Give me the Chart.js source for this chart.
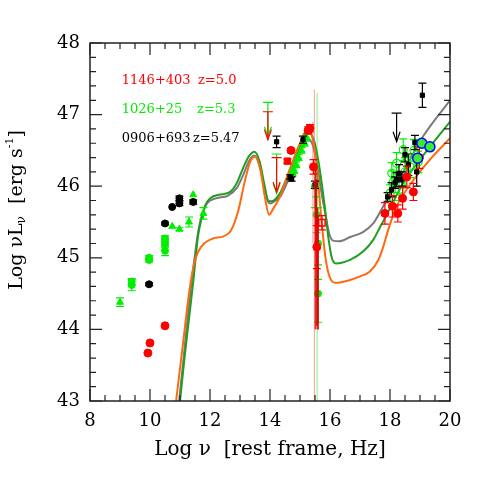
<!DOCTYPE html>
<html>
<head>
<meta charset="utf-8">
<script src="https://cdn.jsdelivr.net/npm/chart.js@4"></script>
<style>html,body{margin:0;padding:0;background:#fff}</style>
</head>
<body>
<canvas id="chart1" width="491" height="491"></canvas>
<script>
// model SEDs: [log nu, log nuLnu]
const grayModel = [[10.97,43.0],[11.12,43.6],[11.3,44.35],[11.47,44.95],[11.62,45.4],[11.75,45.62],[11.9,45.76],[12.2,45.83],[12.6,45.87],[12.9,45.98],[13.1,46.15],[13.3,46.35],[13.47,46.43],[13.62,46.33],[13.78,46.05],[13.92,45.8],[14.02,45.76],[14.15,45.79],[14.35,45.86],[14.6,46.08],[14.9,46.38],[15.1,46.56],[15.26,46.66],[15.42,46.58],[15.57,46.3],[15.7,45.95],[15.85,45.6],[15.98,45.33],[16.1,45.24],[16.3,45.23],[16.67,45.29],[17.1,45.36],[17.44,45.48],[17.67,45.64],[17.89,45.81],[18.44,46.2],[19.11,46.7],[20,47.2]];
const greenModel = [[11.0,43.0],[11.15,43.6],[11.3,44.15],[11.45,44.7],[11.6,45.3],[11.72,45.55],[11.85,45.74],[12.0,45.83],[12.3,45.88],[12.67,45.92],[12.9,46.05],[13.1,46.25],[13.3,46.42],[13.48,46.48],[13.65,46.35],[13.8,46.05],[13.94,45.8],[14.05,45.79],[14.33,45.9],[14.67,46.23],[15.0,46.55],[15.28,46.75],[15.45,46.66],[15.57,46.45],[15.67,46.2],[15.83,45.7],[15.94,45.3],[16.06,45.0],[16.2,44.92],[16.67,44.97],[17.11,45.09],[17.44,45.25],[17.67,45.43],[17.89,45.6],[18.44,46.04],[19.33,46.55],[20,46.9]];
const orangeModel = [[10.87,43.0],[11.1,43.8],[11.3,44.5],[11.45,44.88],[11.6,45.08],[11.8,45.2],[12.1,45.27],[12.45,45.3],[12.7,45.38],[12.95,45.67],[13.15,46.05],[13.33,46.33],[13.5,46.41],[13.67,46.25],[13.83,45.85],[13.97,45.6],[14.1,45.68],[14.33,45.85],[14.67,46.25],[15.0,46.6],[15.25,46.8],[15.4,46.7],[15.56,46.27],[15.7,45.6],[15.85,45.0],[16.0,44.72],[16.2,44.65],[16.67,44.69],[17.0,44.74],[17.33,44.81],[17.61,44.97],[17.78,45.16],[17.94,45.39],[18.22,45.72],[18.67,46.02],[19.33,46.37],[20,46.67]];

// data points: [log nu, log nuLnu, err down, err up]
// 1146+403 z=5.0
const redCircles = [[9.93,43.67],[10.0,43.81],[10.5,44.05],[14.7,46.5,0.03],[15.27,46.78,0.05],[15.33,46.81,0.05],[15.45,46.27,0.1],[15.56,45.15,0.3],
  [17.83,45.62,0.15],[18.08,45.72,0.15],[18.26,45.62,0.12],[18.42,45.83,0.15],[18.56,46.13,0.15],[18.78,45.92,0.12],[18.98,46.40,0.15]];
const redSquares = [[14.58,46.35,0.03]];
const redOpenSquares = [[15.73,45.49,0.1]];
const redBars = [[15.52,45.1,1.1,1.2],[15.57,44.8,0.75,0.9],[15.6,45.0,1.0,0.6],[15.54,45.6,0.4,0.5]];
const redLongBars = [[15.48,45.2,2.2,2.15],[15.43,46.0,0.8,0.9]];
const redLimits = [[13.93,47.04,46.65],[14.22,46.40,45.92]];

// 1026+25 z=5.3
const greenTriangles = [[9.0,44.38,0.06],[10.74,45.44],[10.98,45.40,0.02],[11.3,45.50,0.07],[11.44,45.88],[11.78,45.62,0.08],
  [14.75,46.18,0.04],[14.8,46.22,0.04],[14.87,46.3,0.04],[14.95,46.4,0.04],[15.05,46.5,0.04],[15.15,46.6,0.04],[15.22,46.68,0.05]];
const greenDots = [[9.39,44.67,0.04],[9.39,44.62,0.08],[9.97,45.0,0.03],[9.97,44.97,0.03],[10.5,45.27,0.04],[10.5,45.2,0.05],[10.5,45.1,0.07],
  [15.5,46.0,0.3,0.3],[15.55,45.6,0.25,0.25],[15.6,45.2,0.5,0.5],[15.6,44.5,0.4,0.4]];
const greenBars = [[15.57,45.1,2.1,2.2]];
const greenOpen = [[18.0,45.9,0.12],[18.06,46.18,0.15],[18.11,46.06,0.15],[18.22,46.32,0.15],[18.3,45.95,0.15],[18.44,46.51,0.15],[18.5,46.2,0.2],[18.67,46.27,0.15],[18.8,46.5,0.15],[18.94,46.34,0.15]];
const blueRim = [[18.92,46.39],[19.06,46.60],[19.33,46.55]];
const greenLimits = [[13.93,47.17,46.69],[14.22,46.45,45.9]];

// 0906+693 z=5.47
const blackRadio = [[9.97,44.63,0.02],[10.5,45.48,0.02],[10.74,45.71],[10.98,45.83,0.03],[10.98,45.76,0.03],[11.44,45.78,0.03]];
const blackSquares = [[14.22,46.62,0.08],[14.67,46.13,0.03],[14.72,46.1,0.03],[15.1,46.65,0.05],[15.5,46.02,0.05],
  [17.92,45.85,0.06],[18.05,45.95,0.1],[18.17,46.05,0.08],[18.22,46.09,0.1],[18.3,46.18,0.12],[18.4,46.1,0.1],[18.5,46.44,0.1],[18.61,46.30,0.15],[18.83,46.61,0.1],[18.89,46.2,0.2],[19.08,47.27,0.17]];
const blackLimits = [[18.22,47.02,46.62]];

const labelNames = ['1146+403', '1026+25', '0906+693'];
const labelZ = ['z=5.0', 'z=5.3', 'z=5.47'];
const labelColors = ['#ff0000', '#00ee00', '#000000'];

function pts(arr, color, style, r, extra) {
  return Object.assign({
    data: arr.map(p => ({x: p[0], y: p[1]})),
    errs: arr.map(p => [p[2] || 0, p[3] !== undefined ? p[3] : (p[2] || 0)]),
    pointStyle: style, pointRadius: r, backgroundColor: color, borderColor: color,
    borderWidth: 1, errColor: color
  }, extra || {});
}
function limits(arr, color) {
  return {data: arr.map(p => ({x: p[0], y: p[1]})), tips: arr.map(p => p[2]), pointRadius: 0, errColor: color, borderColor: color};
}
function curve(arr, color) {
  return {data: arr.map(p => ({x: p[0], y: p[1]})), showLine: true, pointRadius: 0, borderColor: color,
    borderWidth: 2, cubicInterpolationMode: 'monotone', fill: false};
}

const errPlugin = {
  id: 'errbars',
  beforeDatasetDraw(chart, args) {
    const ds = chart.data.datasets[args.index];
    if (!ds.errs && !ds.tips) return;
    const xs = chart.scales.x, ys = chart.scales.y, ctx = chart.ctx, a = chart.chartArea;
    ctx.save();
    ctx.beginPath(); ctx.rect(a.left, a.top, a.right - a.left, a.bottom - a.top); ctx.clip();
    ctx.strokeStyle = ds.errLine || ds.errColor; ctx.fillStyle = ds.errColor;
    ctx.lineWidth = ds.errWidth || 1.2;
    ds.data.forEach((d, i) => {
      const px = xs.getPixelForValue(d.x);
      if (ds.errs) {
        const e = ds.errs[i];
        if (!e[0] && !e[1]) return;
        const y1 = ys.getPixelForValue(d.y - e[0]), y2 = ys.getPixelForValue(d.y + e[1]);
        ctx.beginPath(); ctx.moveTo(px, y1); ctx.lineTo(px, y2);
        if (!ds.noCaps) { ctx.moveTo(px - 4, y1); ctx.lineTo(px + 4, y1); ctx.moveTo(px - 4, y2); ctx.lineTo(px + 4, y2); }
        ctx.stroke();
      } else {
        const y1 = ys.getPixelForValue(d.y), y2 = ys.getPixelForValue(ds.tips[i]);
        ctx.beginPath(); ctx.moveTo(px - 5, y1); ctx.lineTo(px + 5, y1);
        ctx.moveTo(px, y1); ctx.lineTo(px, y2); ctx.stroke();
        ctx.beginPath(); ctx.moveTo(px - 3.5, y2 - 10); ctx.lineTo(px, y2); ctx.lineTo(px + 3.5, y2 - 10); ctx.stroke();
      }
    });
    ctx.restore();
  }
};

const framePlugin = {
  id: 'frame',
  afterDraw(chart) {
    const xs = chart.scales.x, ys = chart.scales.y, ctx = chart.ctx, a = chart.chartArea;
    ctx.save();
    ctx.strokeStyle = '#222'; ctx.lineWidth = 1.5;
    ctx.strokeRect(a.left, a.top, a.right - a.left, a.bottom - a.top);
    ctx.lineWidth = 1.2;
    ctx.beginPath();
    for (let v = 8; v <= 20.001; v += 0.5) {
      const px = xs.getPixelForValue(v), len = Math.abs(v % 2) < 1e-6 ? 12 : 6;
      ctx.moveTo(px, a.bottom); ctx.lineTo(px, a.bottom - len);
      ctx.moveTo(px, a.top); ctx.lineTo(px, a.top + len);
    }
    for (let v = 43; v <= 48.001; v += 0.2) {
      const py = ys.getPixelForValue(v), len = Math.abs(v - Math.round(v)) < 1e-6 ? 12 : 6;
      ctx.moveTo(a.left, py); ctx.lineTo(a.left + len, py);
      ctx.moveTo(a.right, py); ctx.lineTo(a.right - len, py);
    }
    ctx.stroke();

    // y axis title with sub/superscript
    ctx.fillStyle = '#000'; ctx.textBaseline = 'middle';
    const parts = [['Log \u03bdL', 19, 0], ['\u03bd', 12, 5], ['  [erg s', 19, 0], ['-1', 11, -7], [']', 19, 0]];
    let total = 0;
    parts.forEach(p => { ctx.font = p[1] + 'px "DejaVu Serif"'; p.w = ctx.measureText(p[0]).width; total += p.w; });
    ctx.translate(17, 210); ctx.rotate(-Math.PI / 2);
    let cx = -total / 2;
    parts.forEach(p => { ctx.font = p[1] + 'px "DejaVu Serif"'; ctx.fillText(p[0], cx, p[2]); cx += p.w; });
    ctx.restore();

    // source labels
    ctx.save();
    ctx.font = '13px "DejaVu Serif"'; ctx.textBaseline = 'middle';
    const zx = [11.6, 11.57, 11.43];
    labelNames.forEach((n, i) => {
      const py = ys.getPixelForValue(47.47 - i * 0.4);
      ctx.fillStyle = labelColors[i];
      ctx.fillText(n, xs.getPixelForValue(9.06), py);
      ctx.fillText(labelZ[i], xs.getPixelForValue(zx[i]), py);
    });
    ctx.restore();
  }
};

const datasets = [
  pts(blueRim, '#33ee33', 'circle', 5, {borderColor: '#0000ff', borderWidth: 1.5}),
  pts(redCircles, '#ff0000', 'circle', 4),
  pts(redSquares, '#ff0000', 'rect', 4.5),
  pts(redOpenSquares, '#ff0000', 'rect', 4.5, {backgroundColor: 'rgba(0,0,0,0)', borderWidth: 1.5}),
  pts(redBars, '#ff0000', 'circle', 0, {errWidth: 2, noCaps: true, errLine: 'rgba(220,0,0,0.8)'}),
  pts(redLongBars, '#ff0000', 'circle', 0, {errWidth: 1, noCaps: true, errLine: 'rgba(255,90,90,0.6)'}),
  limits(redLimits, '#ff0000'),
  pts(blackRadio, '#000000', 'circle', 3.5),
  pts(blackSquares, '#000000', 'rect', 3),
  limits(blackLimits, '#000000'),
  pts(greenTriangles, '#00ee00', 'triangle', 4),
  pts(greenDots, '#00ee00', 'circle', 3.5),
  pts(greenBars, '#00ee00', 'circle', 0, {noCaps: true, errLine: 'rgba(0,220,0,0.4)'}),
  pts(greenOpen, '#00ee00', 'circle', 4, {backgroundColor: 'rgba(0,0,0,0)', borderWidth: 1.2}),
  limits(greenLimits, '#00ee00'),
  curve(orangeModel, '#ff6a10'),
  curve(greenModel, '#1f9f1f'),
  curve(grayModel, '#7a7a7a')
];

const tickFont = {family: '"DejaVu Serif"', size: 18};
new Chart(document.getElementById('chart1'), {
  type: 'scatter',
  data: {datasets: datasets},
  options: {
    responsive: false,
    animation: false,
    layout: {padding: {top: 43, right: 41, left: 0, bottom: 0}},
    plugins: {legend: {display: false}, tooltip: {enabled: false}},
    scales: {
      x: {
        type: 'linear', min: 8, max: 20,
        afterFit: s => { s.height = 90; },
        grid: {display: false, drawTicks: false},
        border: {display: false},
        ticks: {stepSize: 2, autoSkip: false, maxRotation: 0, padding: 10, color: '#000', font: tickFont},
        title: {display: true, text: 'Log \u03bd  [rest frame, Hz]', color: '#000', font: {family: '"DejaVu Serif"', size: 20}, padding: {top: 0, bottom: 29}}
      },
      y: {
        type: 'linear', min: 43, max: 48,
        afterFit: s => { s.width = 90; },
        grid: {display: false, drawTicks: false},
        border: {display: false},
        ticks: {stepSize: 1, autoSkip: false, padding: 10, color: '#000', font: tickFont}
      }
    }
  },
  plugins: [errPlugin, framePlugin]
});
</script>
</body>
</html>
